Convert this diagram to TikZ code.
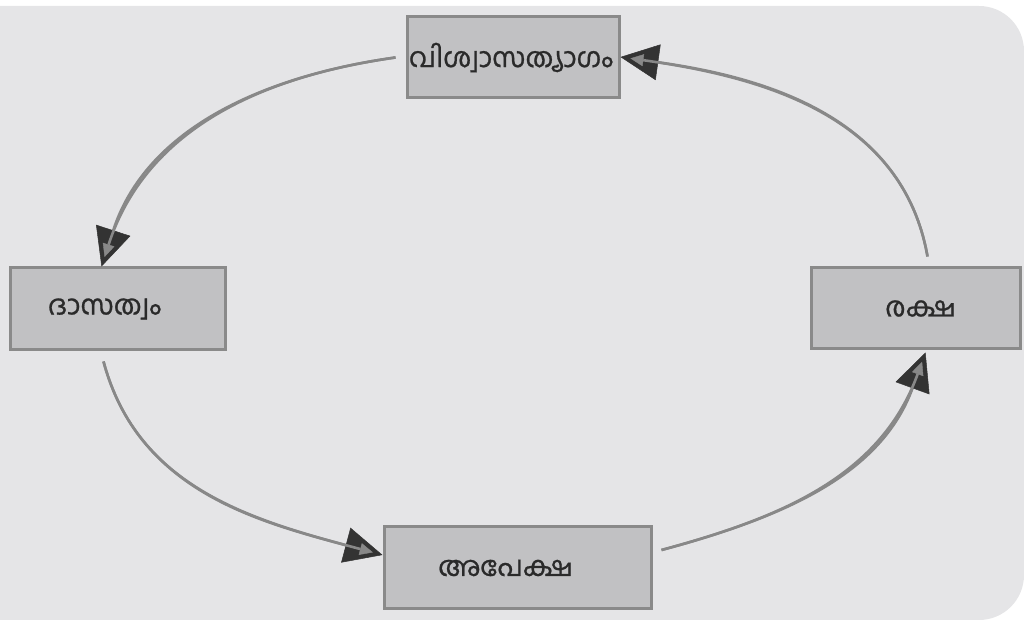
\documentclass[tikz,border=0pt]{standalone}
\usepackage{fontspec}
\newfontfamily\mlfont[Script=Malayalam,FakeBold=0.8]{Hind Kochi}
\usetikzlibrary{arrows.meta,calc}
\definecolor{bgc}{HTML}{E5E5E7}
\definecolor{boxfill}{HTML}{C1C1C3}
\definecolor{boxline}{HTML}{8A8A8A}
\definecolor{linec}{HTML}{888888}
\definecolor{tipc}{HTML}{333333}
\definecolor{txt}{HTML}{2A2A2A}
\tikzset{
  box/.style={draw=boxline, line width=3pt, fill=boxfill, minimum height=81pt,
    inner sep=0pt, font=\mlfont\fontsize{27.5}{33}\selectfont, text=txt},
  conn/.style={draw=linec, line width=2.6pt,
    -{Triangle[length=38pt,width=36pt,color=tipc,fill=tipc,line width=0.5pt]}},
  inner/.style={draw=linec, line width=2.6pt, shorten >=10pt,
    -{Triangle[length=13pt,width=12pt,color=linec,fill=linec,line width=0.4pt]}}
}
\begin{document}
\begin{tikzpicture}[x=1pt,y=1pt]
\useasboundingbox (0,0) rectangle (1024,620);
\fill[bgc] (0,0) -- (979,0) arc[start angle=-90,end angle=0,radius=45] -- (1024,569)
  arc[start angle=0,end angle=90,radius=45] -- (0,614) -- cycle;

\node[box, minimum width=212pt] (top) at (513,562.5) {\hspace*{-4pt}വിശ്വാസത്യാഗം};
\node[box, minimum width=215pt, minimum height=82pt] (left) at (117.5,311) {\hspace*{-26pt}ദാസത്വം};
\node[box, minimum width=209pt] (right) at (915.5,311.5) {\hspace*{10pt}രക്ഷ};
\node[box, minimum width=267pt, minimum height=82pt] (bottom) at (517.5,52) {\hspace*{-24pt}അപേക്ഷ};

\coordinate (s1) at ($(top.west)+(-10,0)$);
\coordinate (e1) at ($(left.north)+(-16,0)$);
\coordinate (s2) at ($(left.south)+(-14,-10)$);
\coordinate (e2) at ($(bottom.west)+(0,13)$);
\coordinate (s3) at ($(bottom.east)+(9,18)$);
\coordinate (e3) at ($(right.south)+(10,-2)$);
\coordinate (s4) at ($(right.north)+(12,10)$);
\coordinate (e4) at ($(top.east)+(0,0.5)$);

\foreach \s in {conn,inner}{
  \draw[\s] (s1) to[out=188,in=72] (e1);
  \draw[\s] (s2) to[out=-75,in=165] (e2);
  \draw[\s] (s3) to[out=15,in=250] (e3);
  \draw[\s] (s4) to[out=100,in=-8] (e4);
}
\end{tikzpicture}
\end{document}
